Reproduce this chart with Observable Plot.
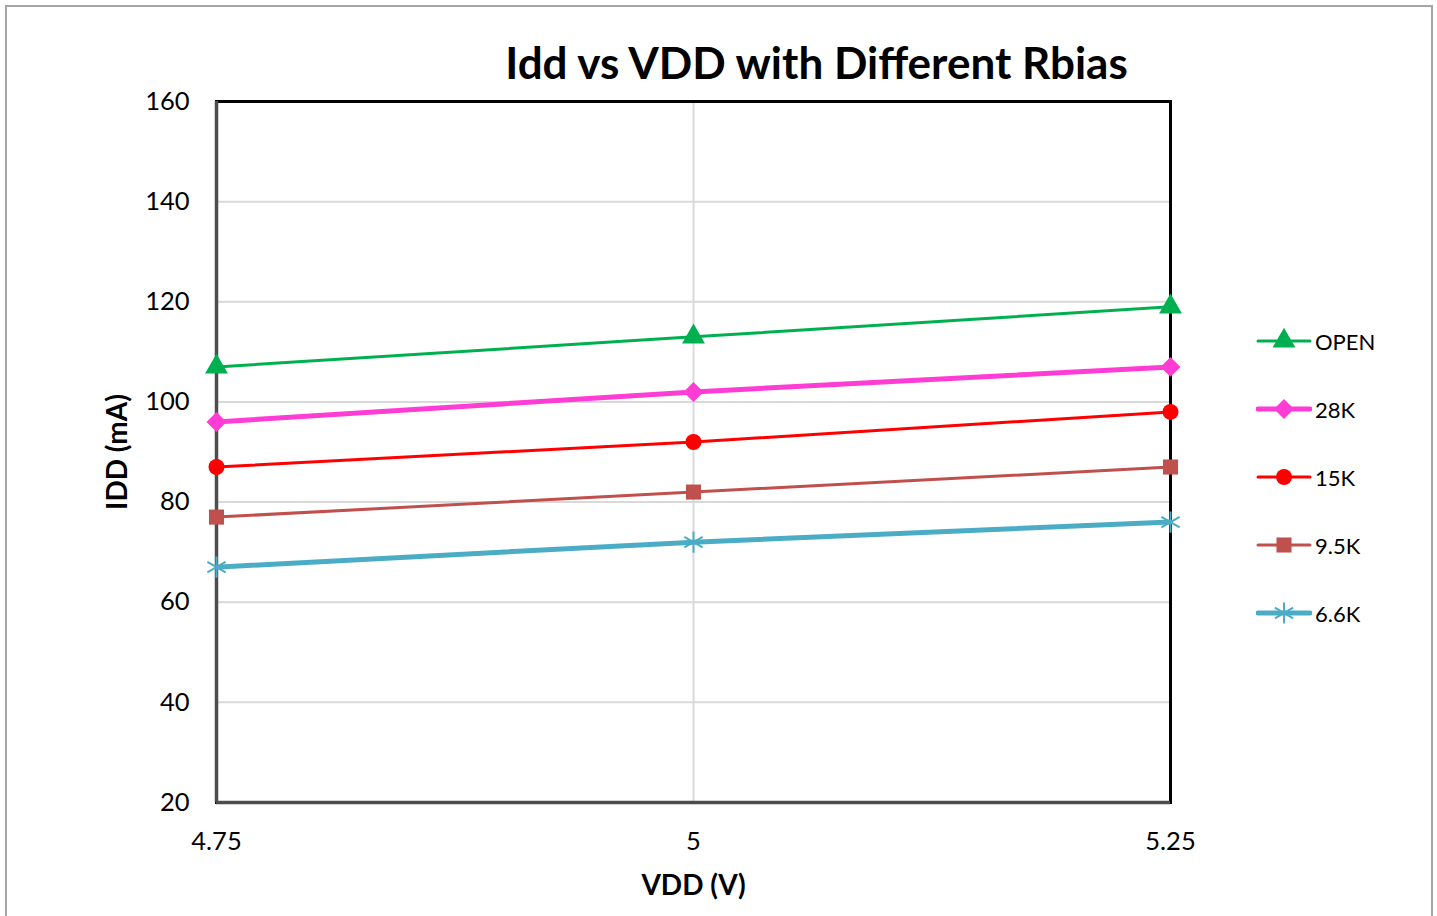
<!DOCTYPE html>
<html>
<head>
<meta charset="utf-8">
<script src="https://cdn.jsdelivr.net/npm/d3@7"></script>
<script src="https://cdn.jsdelivr.net/npm/@observablehq/plot@0.6"></script>
<style>
  html, body { margin: 0; padding: 0; background: #fff; overflow: hidden; }
  #wrap { position: relative; width: 1437px; height: 916px; font-family: Lato, "DejaVu Sans", sans-serif; }
  #border { position: absolute; left: 5px; top: 5px; width: 1428px; height: 930px; border: 2px solid #a6a6a6; box-sizing: border-box; }
  #chart { position: absolute; left: 0; top: 0; }
  #legend { position: absolute; left: 1256px; top: 0; }
  .item { position: absolute; left: 0; height: 30px; display: flex; align-items: center; font-size: 22px; color: #000; white-space: nowrap; }
  .item svg { display: block; margin-right: 3px; }
</style>
</head>
<body>
<div id="wrap">
  <div id="border"></div>
  <div id="chart"></div>
  <div id="legend"></div>
</div>
<script>
// ---- data ----
const vdd = [4.75, 5, 5.25];
const seriesNames = ["OPEN", "28K", "15K", "9.5K", "6.6K"];
const openVals = [107, 113, 119];
const k28Vals = [96, 102, 107];
const k15Vals = [87, 92, 98];
const k95Vals = [77, 82, 87];
const k66Vals = [67, 72, 76];
const xTicks = [4.75, 5, 5.25];
const yTicks = [20, 40, 60, 80, 100, 120, 140, 160];
const title = "Idd vs VDD with Different Rbias";
const xLabel = "VDD (V)";
const yLabel = "IDD (mA)";

// ---- styles ----
const seriesValues = [openVals, k28Vals, k15Vals, k95Vals, k66Vals];
const colors = ["#00B050", "#FF3DD5", "#FF0000", "#C0504D", "#4BACC6"];
const widths = [3, 5, 3, 3, 5];
const symbols = ["triangle", "diamond2", "circle", "square", "asterisk"];
const radii = [8.5, 9, 8, 8.5, 10];

const rows = [];
seriesNames.forEach((name, i) => {
  seriesValues[i].forEach((v, j) => rows.push({series: name, vdd: vdd[j], idd: v}));
});

const marks = [
  Plot.gridY(yTicks.slice(1, -1), {stroke: "#d9d9d9", strokeOpacity: 1, strokeWidth: 2}),
  Plot.gridX(xTicks.slice(1, -1), {stroke: "#d9d9d9", strokeOpacity: 1, strokeWidth: 2}),
  Plot.frame({stroke: "#000", strokeWidth: 3}),
  Plot.ruleX([xTicks[0]], {stroke: "#4d4d4d", strokeWidth: 3.5}),
  Plot.ruleY([yTicks[0]], {stroke: "#4d4d4d", strokeWidth: 3.5}),
  Plot.axisY(yTicks, {tickSize: 0, tickPadding: 27, label: null, fontSize: 25.5}),
  Plot.axisX(xTicks, {tickSize: 0, tickPadding: 29, label: null, fontSize: 25.5, tickFormat: d => String(d)}),
];
seriesNames.forEach((name, i) => {
  const data = rows.filter(r => r.series === name);
  marks.push(Plot.line(data, {x: "vdd", y: "idd", stroke: colors[i], strokeWidth: widths[i]}));
  if (symbols[i] === "asterisk") {
    marks.push(Plot.dot(data, {x: "vdd", y: "idd", symbol: symbols[i], r: radii[i], stroke: colors[i], strokeWidth: 2, fill: "none"}));
  } else {
    marks.push(Plot.dot(data, {x: "vdd", y: "idd", symbol: symbols[i], r: radii[i], fill: colors[i], stroke: "none"}));
  }
});
marks.push(
  Plot.text([title], {frameAnchor: "top", lineAnchor: "middle", dx: 123, dy: -37, fontSize: 44, fontWeight: "bold", fill: "#000"}),
  Plot.text([xLabel], {frameAnchor: "bottom", lineAnchor: "middle", dy: 84, fontSize: 28, fontWeight: "bold", fill: "#000"}),
  Plot.text([yLabel], {frameAnchor: "left", textAnchor: "middle", lineAnchor: "middle", dx: -98, rotate: -90, fontSize: 28, fontWeight: "bold", fill: "#000"})
);

const chart = Plot.plot({
  width: 1437,
  height: 916,
  marginLeft: 216,
  marginRight: 267,
  marginTop: 101,
  marginBottom: 114,
  x: {domain: [xTicks[0], xTicks[xTicks.length - 1]]},
  y: {domain: [yTicks[0], yTicks[yTicks.length - 1]]},
  style: {fontFamily: "Lato, 'DejaVu Sans', sans-serif", fontSize: "25px", color: "#000", background: "transparent", overflow: "visible"},
  marks
});
document.getElementById("chart").appendChild(chart);

// ---- legend ----
const legend = d3.select("#legend");
seriesNames.forEach((name, i) => {
  const item = legend.append("div").attr("class", "item").style("top", (341 - 15 + i * 68) + "px");
  const svg = item.append("svg").attr("width", 56).attr("height", 30);
  svg.append("line").attr("x1", 2).attr("x2", 54).attr("y1", 15).attr("y2", 15)
    .attr("stroke", colors[i]).attr("stroke-width", widths[i]).attr("stroke-linecap", "round");
  const symMap = {triangle: d3.symbolTriangle, diamond2: d3.symbolDiamond2, circle: d3.symbolCircle, square: d3.symbolSquare, asterisk: d3.symbolAsterisk};
  const path = d3.symbol(symMap[symbols[i]], Math.PI * radii[i] * radii[i])();
  const p = svg.append("path").attr("d", path).attr("transform", "translate(28,15)");
  if (symbols[i] === "asterisk") p.attr("fill", "none").attr("stroke", colors[i]).attr("stroke-width", 2);
  else p.attr("fill", colors[i]);
  item.append("span").text(name);
});
</script>
</body>
</html>
